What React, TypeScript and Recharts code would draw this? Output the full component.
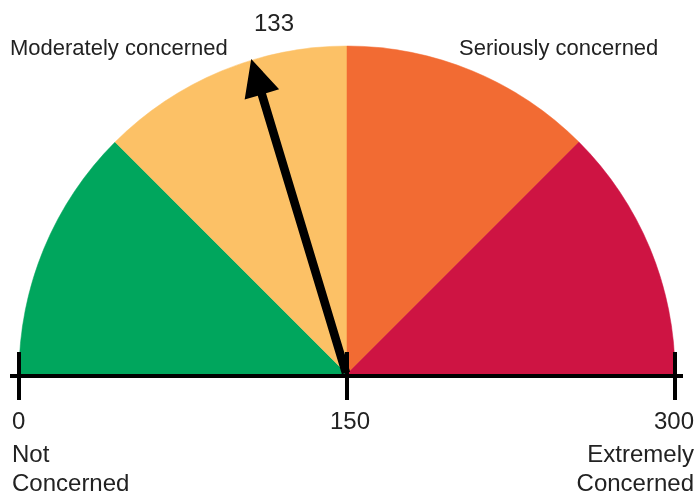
import React from 'react';
import { PieChart, Pie, Cell } from 'recharts';

// ---- data ----
const segmentNames = ['Not concerned', 'Moderately concerned', 'Seriously concerned', 'Extremely concerned'];
const segmentValues = [75, 75, 75, 75];
const segmentColors = ['#00A65D', '#FCC166', '#F26B33', '#CE1443'];
const scaleMax = 300;
const tickValues = [0, 150, 300];
const tickLabels = ['0', '150', '300'];
const tickSubLabels = [['Not', 'Concerned'], [], ['Extremely', 'Concerned']];
const readingLabel = '133';
const needleValue = 122; // needle position as drawn in the reference
const zoneLabels = ['Moderately concerned', 'Seriously concerned'];

const W = 691;
const H = 488;
const CX = 339;
const CY = 366;
const R = 328;
const FONT = '"Liberation Sans", Arial, sans-serif';
const TXT = '#222';

const gaugeData = segmentNames.map((name, i) => ({ name, value: segmentValues[i], color: segmentColors[i] }));
const needleData = [
  { kind: 'needle', value: needleValue },
  { kind: 'rest', value: scaleMax - needleValue },
];
const axisData = tickValues.slice(1).map((v, i) => ({
  kind: 'axis',
  index: i,
  value: v - tickValues[i],
}));

const rad = (deg: number) => (deg * Math.PI) / 180;
// value -> x position on the gauge's horizontal axis (same mapping as the pie: 0 at 180deg, max at 0deg)
const valueToX = (v: number) => CX + R * Math.cos(rad(180 - (v / scaleMax) * 180));

const NeedleShape = (props: any) => {
  const p = props.payload || props;
  if (p.kind !== 'needle') return <g />;
  const { cx, cy, outerRadius, endAngle } = props;
  const a = rad(endAngle);
  const ux = Math.cos(a);
  const uy = -Math.sin(a);
  const px = -uy;
  const py = ux;
  const tipX = cx + outerRadius * ux;
  const tipY = cy + outerRadius * uy;
  const headLen = 37;
  const headHalf = 18;
  const shaftHalf = 4.3;
  const bx = cx + (outerRadius - headLen) * ux;
  const by = cy + (outerRadius - headLen) * uy;
  const pts = [
    [cx + px * shaftHalf, cy + py * shaftHalf],
    [bx + px * shaftHalf, by + py * shaftHalf],
    [bx + px * headHalf, by + py * headHalf],
    [tipX, tipY],
    [bx - px * headHalf, by - py * headHalf],
    [bx - px * shaftHalf, by - py * shaftHalf],
    [cx - px * shaftHalf, cy - py * shaftHalf],
  ];
  return <polygon points={pts.map((q) => q.join(',')).join(' ')} fill="#000" />;
};

const AxisShape = (props: any) => {
  const p = props.payload || props;
  const i = p.index;
  const { cx, cy, outerRadius, startAngle, endAngle } = props;
  const x1 = cx + outerRadius * Math.cos(rad(startAngle));
  const x2 = cx + outerRadius * Math.cos(rad(endAngle));
  const isFirst = i === 0;
  const isLast = i === axisData.length - 1;
  const lineStart = isFirst ? x1 - 9 : x1;
  const lineEnd = isLast ? x2 + 8 : x2;
  const tick = (x: number, key: string) => (
    <rect key={key} x={x - 2} y={cy - 24} width={4} height={48} fill="#000" />
  );
  return (
    <g>
      <rect x={lineStart} y={cy - 2} width={lineEnd - lineStart} height={4} fill="#000" />
      {tick(x1, 's')}
      {isLast && tick(x2, 'e')}
    </g>
  );
};

const AXIS_Y = CY + 2;

const TickLabels = () => (
  <g>
    {tickValues.map((v, ti) => {
      const x = valueToX(v);
      const last = ti === tickValues.length - 1;
      const anchor = ti === 0 ? 'start' : last ? 'end' : 'middle';
      const lx = ti === 0 ? x - 7 : last ? x + 19 : x + 3;
      return (
        <g key={ti}>
          <text x={lx} y={AXIS_Y + 53} textAnchor={anchor} fontSize={24} fill={TXT} fontFamily={FONT}>
            {tickLabels[ti]}
          </text>
          {tickSubLabels[ti].map((s, k) => (
            <text key={k} x={lx} y={AXIS_Y + 86 + k * 29} textAnchor={anchor} fontSize={24} fill={TXT} fontFamily={FONT}>
              {s}
            </text>
          ))}
        </g>
      );
    })}
  </g>
);

export default function App() {
  return (
    <div style={{ position: 'fixed', left: 8, top: 8, width: W, height: H }}>
      <PieChart width={W} height={H} margin={{ top: 0, right: 0, bottom: 0, left: 0 }}>
        <Pie
          data={gaugeData}
          dataKey="value"
          cx={CX}
          cy={CY}
          startAngle={180}
          endAngle={0}
          innerRadius={0}
          outerRadius={R}
          stroke="none"
          isAnimationActive={false}
        >
          {gaugeData.map((d, i) => (
            <Cell key={i} fill={d.color} stroke={d.color} strokeWidth={0.5} />
          ))}
        </Pie>
        <Pie
          data={axisData}
          dataKey="value"
          cx={CX}
          cy={AXIS_Y}
          startAngle={180}
          endAngle={0}
          innerRadius={0}
          outerRadius={R}
          stroke="none"
          shape={AxisShape}
          isAnimationActive={false}
        />
        <Pie
          data={needleData}
          dataKey="value"
          cx={CX - 1}
          cy={CY - 1}
          startAngle={180}
          endAngle={0}
          innerRadius={0}
          outerRadius={R}
          stroke="none"
          shape={NeedleShape}
          isAnimationActive={false}
        />
      </PieChart>
      <svg width={W} height={H} style={{ position: 'absolute', left: 0, top: 0, pointerEvents: 'none' }}>
        <text x={2} y={47} fontSize={22} fill={TXT} fontFamily={FONT}>{zoneLabels[0]}</text>
        <text x={451} y={46.5} fontSize={22} fill={TXT} fontFamily={FONT}>{zoneLabels[1]}</text>
        <text x={246} y={22.7} fontSize={24} fill={TXT} fontFamily={FONT}>{readingLabel}</text>
        <TickLabels />
      </svg>
    </div>
  );
}
